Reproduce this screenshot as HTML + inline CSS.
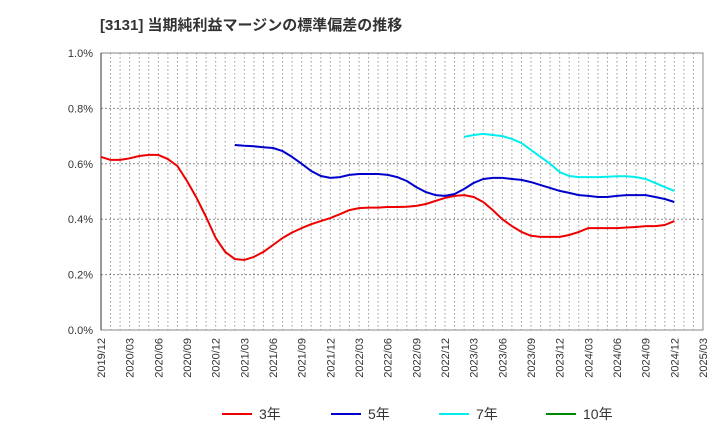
<!DOCTYPE html>
<html><head><meta charset="utf-8"><style>
body{margin:0;background:#fff;}
svg text{font-family:"Liberation Sans","Noto Sans CJK JP",sans-serif;}
</style></head><body>
<svg width="720" height="440" viewBox="0 0 720 440">
<text x="100" y="30" font-size="15" font-weight="bold" fill="#333">[3131]  当期純利益マージンの標準偏差の推移</text>
<g id="grid"></g>
<g id="yaxis"></g>
<g id="xaxis"></g>
<g id="lines"></g>
<g id="legend"></g>
</svg>
<script>
const xLabels=["2019/12","2020/03","2020/06","2020/09","2020/12","2021/03","2021/06","2021/09","2021/12","2022/03","2022/06","2022/09","2022/12","2023/03","2023/06","2023/09","2023/12","2024/03","2024/06","2024/09","2024/12","2025/03"];
const yTicks=[0,0.2,0.4,0.6,0.8,1.0];
const s3=[0.625,0.614,0.614,0.62,0.628,0.632,0.632,0.617,0.592,0.538,0.477,0.408,0.332,0.282,0.256,0.253,0.264,0.282,0.307,0.332,0.352,0.368,0.382,0.393,0.404,0.418,0.433,0.44,0.442,0.442,0.444,0.444,0.445,0.448,0.455,0.466,0.477,0.484,0.487,0.48,0.462,0.433,0.40,0.375,0.354,0.34,0.336,0.336,0.336,0.343,0.354,0.368,0.368,0.368,0.368,0.37,0.372,0.375,0.375,0.379,0.393];
const s5=[0.668,0.665,0.663,0.66,0.657,0.646,0.625,0.6,0.574,0.556,0.549,0.552,0.56,0.563,0.563,0.563,0.56,0.552,0.538,0.516,0.498,0.487,0.484,0.491,0.509,0.531,0.545,0.549,0.549,0.545,0.542,0.534,0.523,0.513,0.502,0.495,0.487,0.484,0.48,0.48,0.484,0.487,0.487,0.487,0.48,0.473,0.462];
const s5Start=14;
const s7=[0.697,0.704,0.708,0.704,0.70,0.69,0.675,0.65,0.625,0.6,0.57,0.556,0.552,0.552,0.552,0.553,0.555,0.555,0.552,0.545,0.531,0.516,0.502];
const s7Start=38;
const L=101,R=703,T=53,B=330;
const X=m=>L+m*(R-L)/63;
const Y=v=>B-v*(B-T);
const ns="http://www.w3.org/2000/svg";
function mk(tag,attrs,parent){const e=document.createElementNS(ns,tag);for(const k in attrs)e.setAttribute(k,attrs[k]);parent.appendChild(e);return e;}
const grid=document.getElementById('grid');
for(let m=1;m<63;m++){const l=mk('line',{x1:X(m),x2:X(m),y1:T,y2:B,stroke:'#999','stroke-dasharray':'1.5,2.5'},grid);

}
const ya=document.getElementById('yaxis');
yTicks.forEach(v=>{const l=mk('line',{x1:L,x2:R,y1:Y(v),y2:Y(v),stroke:'#888','stroke-dasharray':'2,2'},grid);


const t=mk('text',{x:L-8,y:Y(v)+4,'text-anchor':'end','font-size':11,fill:'#333'},ya);


t.textContent=v.toFixed(1)+'%';});
const fr=mk('rect',{x:L,y:T,width:R-L,height:B-T,fill:'none',stroke:'#888'},grid);


mk('line',{x1:L,x2:L,y1:T,y2:B,stroke:'#333'},grid);
const xa=document.getElementById('xaxis');
xLabels.forEach((s,i)=>{const x=X(i*3);const t=mk('text',{x:x+4,y:B+8,'text-anchor':'end','font-size':11,fill:'#333',transform:`rotate(-90 ${x+4} ${B+8})`},xa);


t.textContent=s;});
const lines=document.getElementById('lines');
function draw(arr,start,color,name){const d=arr.map((v,i)=>(i?'L':'M')+X(start+i).toFixed(1)+','+Y(v).toFixed(1)).join('');
const p=mk('path',{d:d,fill:'none',stroke:color,'stroke-width':2,'stroke-linejoin':'round'},lines);

}
draw(s3,0,'#ee0000','line-3y');
draw(s5,s5Start,'#0000cc','line-5y');
draw(s7,s7Start,'#00eeee','line-7y');
const lg=document.getElementById('legend');
[['3年','#ee0000',222],['5年','#0000cc',331],['7年','#00eeee',439],['10年','#008800',546]].forEach(([n,c,x])=>{
const g=mk('g',{},lg);


mk('line',{x1:x,x2:x+30,y1:414,y2:414,stroke:c,'stroke-width':2},g);
const t=mk('text',{x:x+37,y:419,'font-size':14,fill:'#333'},g);t.textContent=n;});
</script>
</body></html>
